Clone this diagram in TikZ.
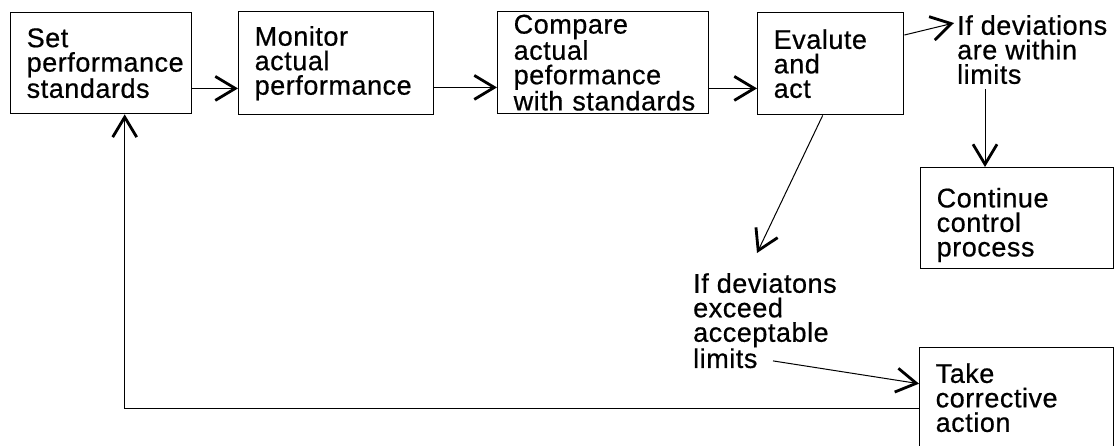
\documentclass[tikz,border=0pt]{standalone}
\usepackage{fontspec}
\setmainfont{Liberation Sans}[LetterSpace=2,FakeBold=0.6]
\usetikzlibrary{arrows.meta,calc}
\hyphenpenalty=10000
\exhyphenpenalty=10000
\begin{document}
\begin{tikzpicture}[x=1pt,y=-1pt,
  every node/.style={font=\fontsize{27pt}{24.5pt}\selectfont},
  box/.style={draw, line width=1.4pt, anchor=north west, align=left, inner xsep=16pt, inner ysep=0pt},
  lbl/.style={anchor=north west, align=left, inner sep=0pt},
  arr/.style={line width=1pt, -{Straight Barb[length=20pt,width=24pt,line width=2.8pt]}},
]
\useasboundingbox (0,0) rectangle (1116,445);
\node[box, minimum width=181pt, minimum height=101pt, text width=149pt] (b1) at (10,12) {Set\\performance\\standards};
\node[box, minimum width=195pt, minimum height=103pt, text width=163pt] (b2) at (238,11) {Monitor\\actual\\performance};
\node[box, minimum width=211pt, minimum height=102pt, text width=179pt] (b3) at (497,11) {Compare\\actual\\peformance\\\mbox{with standards}};
\node[box, minimum width=146pt, minimum height=102pt, text width=114pt] (b4) at (757,12) {Evalute\\and\\act};
\node[box, minimum width=193pt, minimum height=101pt, text width=161pt] (cont) at (920,167) {\rule{0pt}{33pt}Continue\\control\\process};
\node[box, minimum width=194pt, minimum height=100pt, text width=162pt] (take) at (919,347) {Take\\corrective\\action};
\node[lbl] (l1) at (957,15) {If deviations\\are within\\limits};
\node[lbl] (l2) at (693,273) {If deviatons\\exceed\\acceptable\\limits};
% connectors
\draw[arr] ([yshift=26pt]b1.south east) -- ([yshift=26pt]b1.south east -| b2.west);
\draw[arr] ([yshift=28pt]b2.south east) -- ([yshift=28pt]b2.south east -| b3.west);
\draw[arr] ([yshift=26pt]b3.south east) -- ([yshift=26pt]b3.south east -| b4.west);
\draw[arr] ([yshift=-23pt]b4.north east) -- ([xshift=-3pt,yshift=-8pt]l1.north west);
\draw[arr] ([xshift=28pt,yshift=-5pt]l1.south west) -- ([xshift=28pt]l1.south west |- cont.north);
\draw[arr] ([xshift=-8pt]b4.south) -- ([xshift=64pt,yshift=20pt]l2.north west);
\draw[arr] ([xshift=80pt,yshift=7.5pt]l2.south west) -- ([yshift=14pt]take.west);
\draw[arr] ([yshift=-11pt]take.west) -| ([xshift=23.5pt]b1.south);
\end{tikzpicture}
\end{document}
